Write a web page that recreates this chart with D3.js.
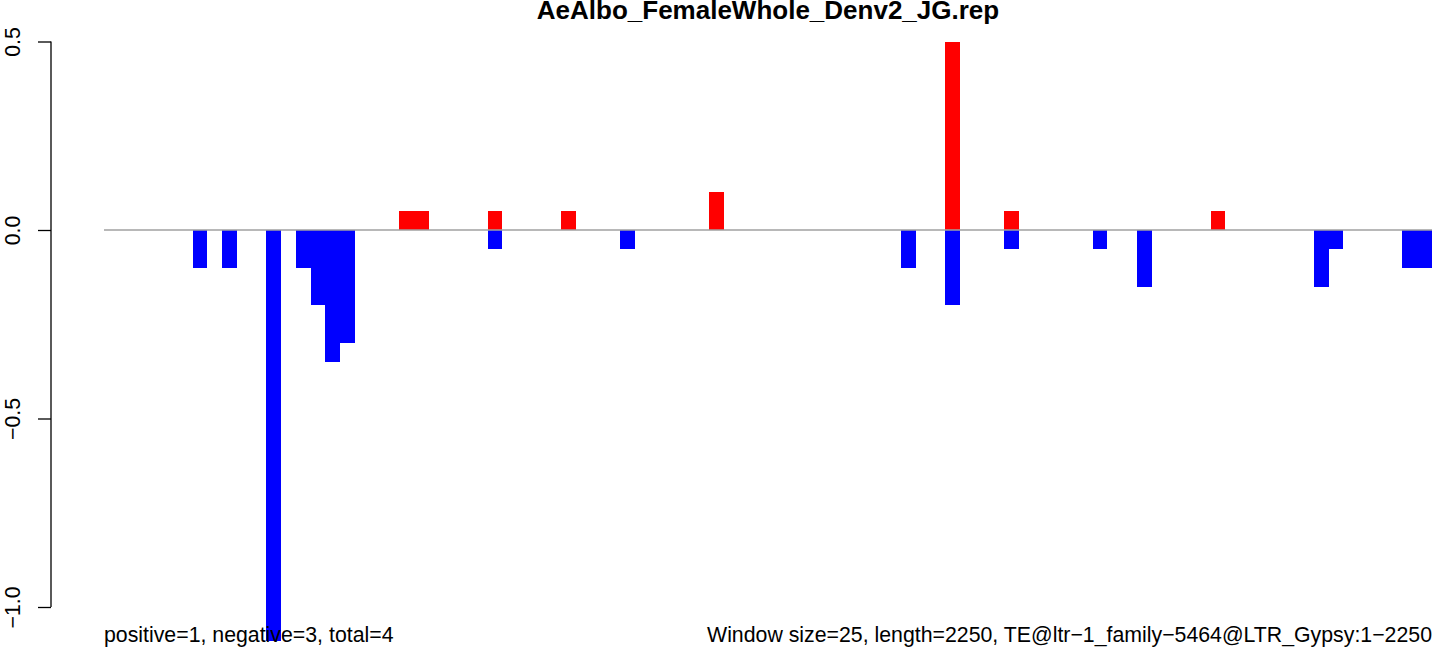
<!DOCTYPE html>
<html>
<head>
<meta charset="utf-8">
<script src="https://cdn.jsdelivr.net/npm/d3@7"></script>
<style>
  html, body { margin: 0; padding: 0; background: #fff; }
  svg { display: block; font-family: "Liberation Sans", Arial, Helvetica, sans-serif; }
</style>
</head>
<body>
<svg id="chart" width="1444" height="649"></svg>
<script>
// ---- data ----
const title = "AeAlbo_FemaleWhole_Denv2_JG.rep";
const windowSize = 25;
const seqLength = 2250;
// positive (red) windows: window start positions and values
const posStarts = [500, 525, 650, 775, 1025, 1425, 1525, 1875];
const posValues = [0.05, 0.05, 0.05, 0.05, 0.1, 0.5, 0.05, 0.05];
// negative (blue) windows
const negStarts = [150, 200, 275, 325, 350, 375, 400, 650, 875, 1350, 1425, 1525, 1675, 1750, 2050, 2075, 2200, 2225];
const negValues = [-0.1, -0.1, -1.09, -0.1, -0.2, -0.35, -0.3, -0.05, -0.05, -0.1, -0.2, -0.05, -0.05, -0.15, -0.15, -0.05, -0.1, -0.1];
const yTicks = [-1.0, -0.5, 0.0, 0.5];
const yTickLabels = ["\u22121.0", "\u22120.5", "0.0", "0.5"];
const leftNote = "positive=1, negative=3, total=4";
const rightNote = "Window size=25, length=2250, TE@ltr\u22121_family\u22125464@LTR_Gypsy:1\u22122250";

// ---- layout ----
const svg = d3.select("#chart");
const x = d3.scaleLinear().domain([0, seqLength]).range([104, 1432]);
const y = d3.scaleLinear().domain([-1.0, 0.5]).range([607, 41.5]);

const bars = svg.append("g");

const pos = posStarts.map((s, i) => ({ s, v: posValues[i] }));
const neg = negStarts.map((s, i) => ({ s, v: negValues[i] }));

bars.selectAll("rect.pos").data(pos).join("rect")
  .attr("class", "pos")
  .attr("x", d => x(d.s))
  .attr("width", d => x(d.s + windowSize) - x(d.s))
  .attr("y", d => y(d.v))
  .attr("height", d => y(0) - y(d.v))
  .attr("fill", "#ff0000")
  .attr("shape-rendering", "crispEdges");

bars.selectAll("rect.neg").data(neg).join("rect")
  .attr("class", "neg")
  .attr("x", d => x(d.s))
  .attr("width", d => x(d.s + windowSize) - x(d.s))
  .attr("y", y(0))
  .attr("height", d => y(d.v) - y(0))
  .attr("fill", "#0000ff")
  .attr("shape-rendering", "crispEdges");

// baseline
svg.append("line")
  .attr("x1", x(0)).attr("x2", x(seqLength))
  .attr("y1", y(0)).attr("y2", y(0))
  .attr("stroke", "#a0a0a0").attr("stroke-width", 1.6);

// y axis
const axis = d3.axisLeft(y).tickValues(yTicks)
  .tickFormat((d, i) => yTickLabels[i]).tickSize(13).tickPadding(0);
const ag = svg.append("g").attr("transform", "translate(51,0)").call(axis);
ag.select(".domain").attr("d", `M0,${y(0.5)}V${y(-1.0)}`).attr("stroke", "#000").attr("stroke-width", 1.3);
ag.selectAll(".tick line").attr("stroke", "#000").attr("stroke-width", 1.3);
ag.selectAll(".tick text")
  .attr("font-size", 21.3)
  .attr("fill", "#000")
  .attr("text-anchor", "middle")
  .attr("x", 0).attr("y", 0)
  .attr("dy", 0)
  .attr("transform", "translate(-31,0) rotate(-90)");

// bottom notes (on top of bars)
svg.append("text").attr("x", x(0)).attr("y", 641.5)
  .attr("font-size", 21.3).attr("fill", "#000").text(leftNote);
svg.append("text").attr("x", x(seqLength)).attr("y", 641.5)
  .attr("text-anchor", "end")
  .attr("font-size", 21.3).attr("fill", "#000").text(rightNote);

// title
svg.append("text")
  .attr("x", (x(0) + x(seqLength)) / 2).attr("y", 19)
  .attr("text-anchor", "middle")
  .attr("font-weight", "bold").attr("font-size", 26)
  .attr("fill", "#000")
  .text(title);
</script>
</body>
</html>
